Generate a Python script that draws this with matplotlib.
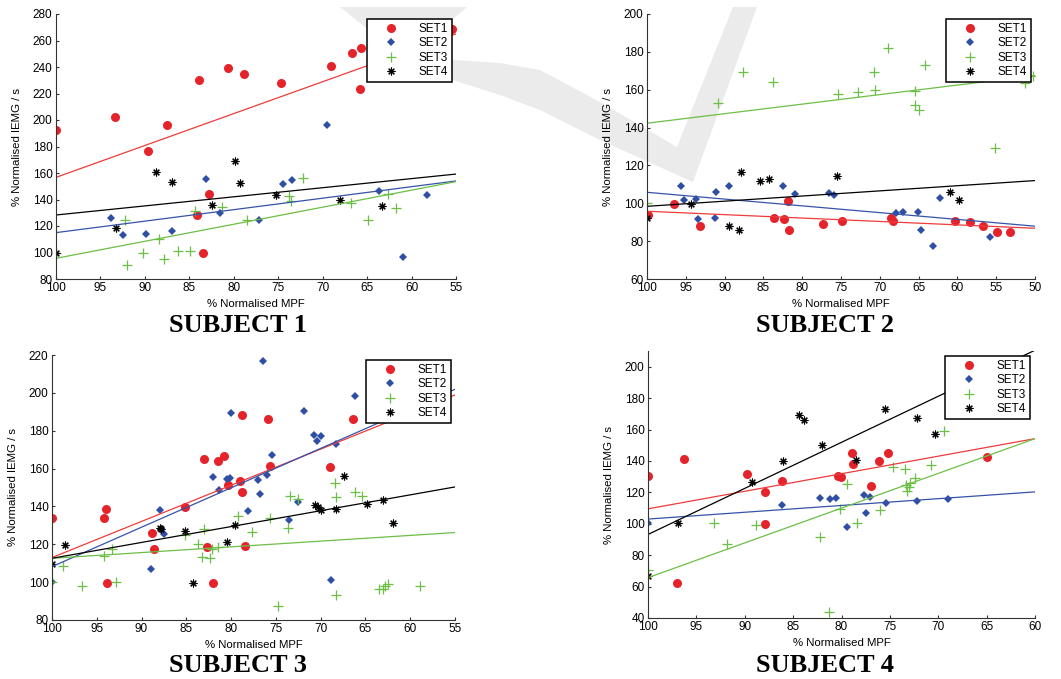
#!/usr/bin/env python3
"""IEMG vs MPF scatter, four subjects, four sets each, with linear trend lines."""
import numpy as np
import matplotlib
matplotlib.use("Agg")
import matplotlib.pyplot as plt
from matplotlib.patches import Polygon

W, H = 1061, 679
SETS = ["SET1", "SET2", "SET3", "SET4"]
TITLES = ["SUBJECT 1", "SUBJECT 2", "SUBJECT 3", "SUBJECT 4"]

# ---- subject 1: (% normalised MPF, % normalised IEMG/s)
s1_set1 = [(100, 192.5), (93.4, 202.5), (89.7, 176.6), (87.5, 196.5), (83.9, 230),
           (82.8, 144.4), (84.1, 128), (83.5, 100), (80.6, 239.2), (78.9, 234.7),
           (74.7, 227.7), (69.1, 241), (66.7, 250.3), (65.7, 254.3), (65.8, 223.4),
           (55.4, 268.4)]
s1_set2 = [(93.8, 126), (92.5, 113), (89.9, 113.7), (87.0, 116.2), (83.1, 155.2),
           (81.6, 129.6), (77.2, 124.3), (74.5, 152), (73.5, 154.7), (69.5, 196.2),
           (63.7, 146.7), (61.0, 96.9), (58.3, 143.6)]
s1_set3 = [(100, 100), (92.2, 124.3), (92.05, 90.8), (90.25, 99.6), (88.4, 110.2),
           (87.9, 94.8), (86.3, 100.9), (84.9, 100.9), (84.4, 131.3), (81.3, 134.6),
           (78.5, 124.3), (73.8, 142.4), (73.6, 138.9), (72.2, 156.5), (66.8, 137.4),
           (64.9, 124.3), (62.6, 143.9), (61.7, 133.3)]
s1_set4 = [(100, 100), (93.3, 118.5), (88.8, 161), (87.0, 153.2), (82.5, 135.8),
           (79.9, 169), (79.3, 152.2), (75.3, 143.4), (68.0, 139.6), (63.3, 135.1)]
s1_fit_start = [156.7, 115.0, 95.6, 128.3]   # trend value at MPF = 100
s1_fit_end = [265.0, 154.0, 153.5, 159.2]    # trend value at lowest MPF

# ---- subject 2
s2_set1 = [(99.9, 93.8), (96.5, 99.8), (93.2, 87.9), (83.6, 92.4), (82.3, 91.7),
           (81.8, 101.1), (81.7, 85.9), (77.3, 89.3), (74.9, 90.7), (68.6, 92.4),
           (68.3, 90.8), (60.3, 90.8), (58.4, 90.3), (56.7, 88.0), (54.9, 84.7),
           (53.2, 85.0)]
s2_set2 = [(95.6, 109.2), (95.2, 101.8), (93.7, 102.1), (93.4, 91.9), (91.2, 92.3),
           (91.1, 106.2), (89.4, 109.2), (82.5, 109.2), (80.9, 104.9), (76.5, 105.5),
           (75.9, 104.4), (67.9, 94.9), (67.0, 95.6), (65.1, 95.6), (64.7, 86.1),
           (63.1, 77.3), (62.2, 102.8), (55.8, 82.4)]
s2_set3 = [(100, 100), (90.8, 152.8), (87.6, 169.2), (83.8, 163.9), (75.4, 157.6),
           (72.8, 158.8), (70.8, 169.2), (70.6, 159.7), (68.9, 182.2), (65.5, 159.5),
           (65.4, 151.9), (65.0, 149.3), (64.2, 172.9), (55.2, 129), (51.3, 163.6),
           (50.3, 167)]
s2_set4 = [(100, 92.1), (94.3, 99.8), (89.4, 88.0), (88.1, 85.9), (87.9, 116.7),
           (85.5, 111.8), (84.3, 113.0), (75.5, 114.3), (61.0, 106), (59.8, 101.8)]
s2_fit_start = [95.8, 105.8, 142.3, 98.4]
s2_fit_end = [86.8, 87.9, 167.5, 112.0]

# ---- subject 3
s3_set1 = [(100, 133.7), (94.2, 133.7), (94.0, 138.7), (93.9, 99.4), (88.8, 125.8),
           (88.6, 117.7), (85.2, 139.9), (83.0, 165.2), (82.7, 118.6), (82.0, 99.8),
           (81.5, 163.9), (80.8, 166.8), (80.3, 151.3), (79.0, 153.5), (78.8, 188.5),
           (78.8, 147.5), (78.5, 119.3), (75.9, 186.0), (75.7, 161.5), (69.0, 160.7),
           (66.4, 186.0)]
s3_set2 = [(100, 100), (89.0, 106.8), (87.9, 138), (87.5, 125.3), (82.0, 155.7),
           (81.3, 148.9), (80.5, 154.3), (80.0, 189.5), (80.1, 155.2), (78.1, 137.6),
           (77.0, 154.0), (76.8, 146.6), (76.4, 216.7), (76.0, 156.4), (75.4, 167),
           (73.5, 133), (72.5, 142.5), (71.9, 190.4), (70.8, 177.6), (70.4, 174.4),
           (70.0, 177), (68.9, 101.2), (68.3, 172.8), (66.2, 198.3)]
s3_set3 = [(100, 100), (98.8, 108.7), (96.7, 97.7), (94.2, 113.8), (93.3, 117.5),
           (92.9, 100.1), (85.1, 124.9), (83.7, 120.4), (83.2, 113.3), (83.0, 128.1),
           (82.4, 112.6), (82.1, 117.4), (81.5, 118.4), (79.2, 134.8), (77.7, 126.3),
           (75.7, 133.9), (74.8, 87.6), (73.7, 128.8), (73.4, 145.7), (72.5, 143.8),
           (68.4, 152.2), (68.3, 145.2), (68.3, 93.2), (66.2, 147.5), (65.4, 145.4),
           (63.5, 96.2), (63.0, 96.2), (62.8, 98.2), (62.5, 99.0), (58.9, 98.2)]
s3_set4 = [(100, 109.8), (98.5, 119.5), (87.9, 128.5), (87.8, 128.1), (85.1, 126.9),
           (84.3, 99.8), (80.5, 121.1), (79.6, 130.0), (70.6, 141), (70.3, 139.9),
           (70.0, 138.3), (68.3, 138.7), (67.4, 156.3), (64.8, 141.3), (63.0, 143.6),
           (61.9, 131.3)]
s3_fit_start = [113.0, 108.2, 112.6, 112.6]
s3_fit_end = [198.9, 201.9, 126.2, 150.3]

# ---- subject 4
s4_set1 = [(100, 130.1), (97.0, 62.5), (96.3, 141.1), (89.8, 132), (87.9, 120.1),
           (87.9, 99.8), (86.2, 127.1), (80.4, 130.1), (80.1, 129.7), (78.9, 145.3),
           (78.8, 137.9), (77.0, 124.2), (76.1, 140), (75.2, 145.3), (65.0, 142.4)]
s4_set2 = [(100, 100.2), (86.2, 111.7), (82.2, 116.1), (81.2, 115.7), (80.6, 116.1),
           (79.4, 98.1), (77.7, 118.4), (77.5, 106.6), (77.1, 117), (75.4, 113.1),
           (72.2, 114.6), (69.0, 115.5)]
s4_set3 = [(100, 70.8), (93.2, 100.2), (91.8, 87.1), (88.8, 98.9), (82.2, 91.3),
           (81.3, 43.9), (80.2, 109.1), (79.4, 125.4), (78.4, 100.2), (76.0, 108.7),
           (74.7, 136.4), (73.4, 134.7), (73.3, 124.4), (73.2, 121), (73.0, 123.7),
           (72.9, 125.8), (72.4, 129), (70.7, 137.7), (69.4, 159.1)]
s4_set4 = [(100, 66.5), (96.9, 100.2), (89.3, 126.3), (86.0, 139.8), (84.4, 169.1),
           (83.9, 165.9), (82.0, 150.2), (78.5, 140.7), (75.5, 173.1), (72.2, 167.4),
           (70.3, 157)]
s4_fit_start = [109.5, 103.0, 65.7, 93.2]
s4_fit_end = [154.2, 120.3, 154.2, 210.5]

subjects = [
    ([s1_set1, s1_set2, s1_set3, s1_set4], s1_fit_start, s1_fit_end),
    ([s2_set1, s2_set2, s2_set3, s2_set4], s2_fit_start, s2_fit_end),
    ([s3_set1, s3_set2, s3_set3, s3_set4], s3_fit_start, s3_fit_end),
    ([s4_set1, s4_set2, s4_set3, s4_set4], s4_fit_start, s4_fit_end),
]

# ---- layout (pixels, top-left origin)
AX_BOX = [(56, 14, 456, 279), (647, 14, 1035, 279),
          (52, 355, 455, 620), (648, 351, 1035, 618)]
XLIM = [(100, 55), (100, 50), (100, 55), (100, 60)]
YLIM = [(80, 280), (60, 200), (80, 220), (40, 210)]
YTICKS = [np.arange(80, 281, 20), np.arange(60, 201, 20),
          np.arange(80, 221, 20), np.arange(40, 201, 20)]
LEG_ANCHOR = [(452, 19), (1031, 19), (451, 360), (1030, 356)]
TITLE_POS = [(238, 325), (825, 325), (238, 666), (825, 666)]

MARK = [dict(marker="o", color="#e5232b", ms=6.5, mew=0),
        dict(marker="D", color="#2e4fa4", ms=4.0, mew=0),
        dict(marker="+", color="#6cbf46", ms=7.5, mew=0.9),
        dict(marker=(8, 2, 0), color="black", ms=5.6, mew=0.8)]
LINE_COL = ["#ef3b3b", "#3553a8", "#6cbf46", "black"]

SANS = ["Liberation Sans", "DejaVu Sans"]
SERIF = ["Liberation Serif", "DejaVu Serif"]
plt.rcParams["font.family"] = SANS

fig = plt.figure(figsize=(W / 100, H / 100), dpi=100)

# faint watermark swoosh behind everything
bg = fig.add_axes([0, 0, 1, 1], zorder=-5)
bg.set_xlim(0, W)
bg.set_ylim(H, 0)
bg.axis("off")
swoosh = [(340, 7), (365, 27), (400, 52), (453, 80), (500, 95), (540, 110),
          (600, 140), (693, 182), (757, 7), (733, 7), (677, 147), (600, 102),
          (540, 70), (500, 63), (453, 60), (444, 40), (452, 20), (467, 7)]
bg.add_patch(Polygon(swoosh, closed=True, fc="#ebebeb", ec="none"))


def px_rect(l, t, r, b):
    return [l / W, 1 - b / H, (r - l) / W, (b - t) / H]


for i, (sets, fit0, fit1) in enumerate(subjects):
    ax = fig.add_axes(px_rect(*AX_BOX[i]))
    ax.set_facecolor("none")
    handles = []
    for k, pts in enumerate(sets):
        pts = np.array(pts)
        h, = ax.plot(pts[:, 0], pts[:, 1], ls="none", label=SETS[k], **MARK[k])
        handles.append(h)
    for k in range(4):
        ax.plot(XLIM[i], [fit0[k], fit1[k]], color=LINE_COL[k], lw=0.9)
    ax.set_xlim(*XLIM[i])
    ax.set_ylim(*YLIM[i])
    ax.set_xticks(np.arange(XLIM[i][0], XLIM[i][1] - 1, -5))
    ax.set_yticks(YTICKS[i])
    for s in ("top", "right"):
        ax.spines[s].set_visible(False)
    for s in ("left", "bottom"):
        ax.spines[s].set_color("#333333")
        ax.spines[s].set_linewidth(0.8)
    ax.tick_params(direction="in", length=2.5, width=0.8, color="#333333",
                   labelsize=8.5, pad=2.5)
    ax.set_xlabel("% Normalised MPF", fontsize=8.2, labelpad=3)
    ax.set_ylabel("% Normalised IEMG / s", fontsize=8.2, labelpad=8)
    lx, ly = LEG_ANCHOR[i]
    leg = ax.legend(handles=handles, loc="upper right",
                    bbox_to_anchor=(lx / W, 1 - ly / H), bbox_transform=fig.transFigure,
                    fontsize=8.5, frameon=True, fancybox=False, framealpha=1,
                    borderpad=0.35, handlelength=3.4, handletextpad=0.6,
                    labelspacing=0.2, borderaxespad=0, numpoints=1)
    leg.get_frame().set_edgecolor("black")
    leg.get_frame().set_linewidth(1.1)
    tx, ty = TITLE_POS[i]
    fig.text(tx / W, 1 - ty / H, TITLES[i], ha="center", va="center",
             fontsize=19, fontweight="bold", family=SERIF)

fig.savefig("out.png", dpi=100)
print("wrote out.png")
